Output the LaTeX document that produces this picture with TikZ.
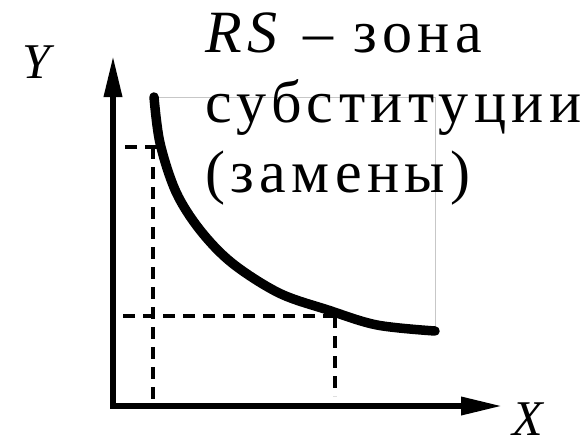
\documentclass[tikz,border=0pt]{standalone}
\usepackage{fontspec}
\setmainfont{Liberation Serif}
\usetikzlibrary{arrows.meta}

\begin{document}
\begin{tikzpicture}[x=1pt, y=-1pt,
        axis/.style={line width=6.5pt, {Triangle[length=42pt, width=17pt]}-{Triangle[length=42pt, width=17pt]}},
        curve/.style={line width=9.5pt, line cap=round, line join=round},
        guide/.style={line width=4pt, dash pattern=on 12pt off 8pt},
        frameline/.style={black!22, line width=0.8pt},
        axlabel/.style={inner sep=0pt, font=\fontsize{50}{50}\selectfont\itshape}]
        \useasboundingbox (0,0) rectangle (588,440);

        % Axes
        \coordinate (O) at (113,406);
        \coordinate (ytip) at (113,55);
        \coordinate (xtip) at (503,406);
        \draw[axis] (ytip) -- (O) -- (xtip);
        \node[axlabel] (ylabel) at (36,62) {Y};
        \node[axlabel] (xlabel) at (528,419) {X};

        % Substitution curve
        \coordinate (cstart) at (154,97);
        \coordinate (cend) at (435,331);
        \draw[frameline] (cstart) -| (cend);
        \draw[curve] plot[smooth, tension=0.55] coordinates {(cstart) (160,143) (176,192) (200,230) (232,263) (279,293) (328,310) (377,325) (cend)};

        % Dashed guides
        \coordinate (p1) at (153,147);
        \coordinate (p2) at (335,316);
        \draw[guide] (157,147) -- (124,147);
        \draw[guide] (p1) -- (p1 |- O);
        \draw[guide] (p2) -- (118,316);
        \draw[guide] (p2) -- (335,396);

        % Zone label (base = last line)
        \node[anchor=base west, align=left, inner sep=0pt,
              font=\fontsize{60}{70}\selectfont\addfontfeature{LetterSpace=9}]
              (zone) at (205,192) {\textit{RS} -- зона\\субституции\\(замены)};
    \end{tikzpicture}
\end{document}
